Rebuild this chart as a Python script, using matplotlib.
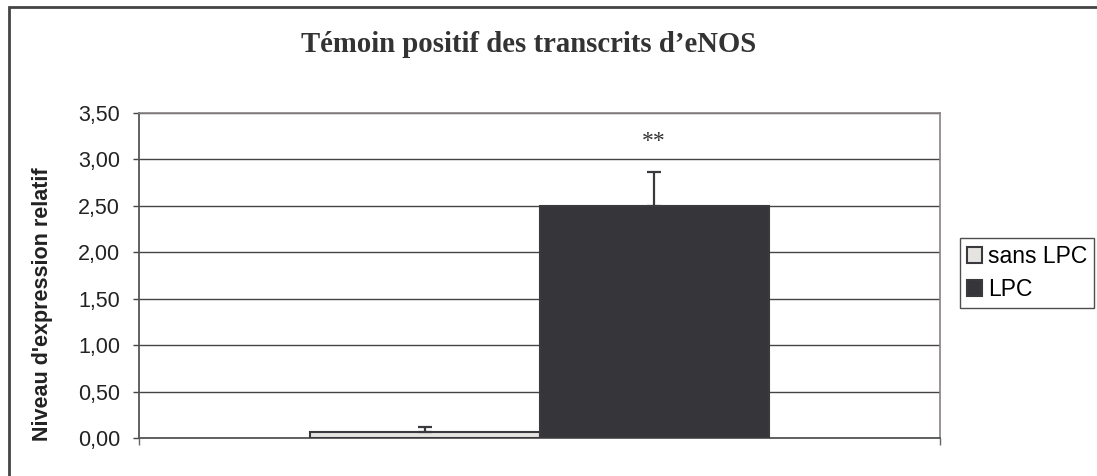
import matplotlib.pyplot as plt
from matplotlib.patches import Rectangle
from matplotlib.ticker import FuncFormatter

series = ["sans LPC", "LPC"]
values = [0.065, 2.50]
errors = [0.055, 0.36]
star_label = "**"
star_y = 3.19
yticks = [0.0, 0.5, 1.0, 1.5, 2.0, 2.5, 3.0, 3.5]

fills = ["#e6e4e1", "#36353a"]
edge = "#3a3a3e"
bar_w = 0.286
offsets = [-bar_w / 2, bar_w / 2]

fig = plt.figure(figsize=(10.97, 4.76), dpi=100)
ax = fig.add_axes([139 / 1097, 38 / 476, 801 / 1097, 325 / 476])

for i, (name, v, e) in enumerate(zip(series, values, errors)):
    ax.bar(offsets[i], v, width=bar_w, color=fills[i], edgecolor=edge,
           linewidth=1.5, label=name, zorder=3)
    ax.errorbar(offsets[i], v, yerr=[[0], [e]], fmt='none', ecolor=edge,
                elinewidth=1.6, capsize=5, capthick=1.6, zorder=4)

ax.text(offsets[1], star_y, star_label, ha='center', va='center',
        fontsize=17, family='Liberation Serif', color='#333333')

ax.set_xlim(-0.5, 0.5)
ax.set_ylim(0, 3.5)
ax.set_yticks(yticks)
ax.yaxis.set_major_formatter(FuncFormatter(lambda y, p: f"{y:.2f}".replace('.', ',')))
ax.set_xticks([-0.5, 0.5])
ax.set_xticklabels([])
ax.tick_params(axis='y', direction='out', length=4.5, width=1, color='#444444',
               labelsize=15.5, pad=9, labelcolor='#222222')
ax.tick_params(axis='x', direction='out', length=5, width=1, color='#666666')
for lab in ax.get_yticklabels():
    lab.set_family('Liberation Sans')

ax.grid(axis='y', color='#444444', linewidth=1, zorder=0)
ax.set_axisbelow(True)
for s in ['top', 'right']:
    ax.spines[s].set_color('#8a8282')
    ax.spines[s].set_linewidth(1.2)
ax.spines['left'].set_color('#555555')
ax.spines['bottom'].set_color('#555555')
ax.spines['left'].set_linewidth(1.3)
ax.spines['bottom'].set_linewidth(1.3)

fig.text(43 / 1097, 1 - 304 / 476, "Niveau d'expression relatif", rotation=90,
         ha='center', va='center', fontsize=15.5, fontweight='bold',
         family='Liberation Sans', color='#222222')

fig.text(529 / 1097, 1 - 45 / 476, "Témoin positif des transcrits d’eNOS",
         ha='center', va='center', fontsize=20.7, fontweight='bold',
         family='Liberation Serif', color='#333333')

leg = ax.legend(loc='center left', bbox_to_anchor=(960 / 1097, 1 - 273 / 476),
                bbox_transform=fig.transFigure, frameon=True, fancybox=False,
                prop={'family': 'Liberation Sans', 'size': 16.5},
                handlelength=0.68, handleheight=0.68, handletextpad=0.25,
                borderpad=0.3, labelspacing=0.45, borderaxespad=0)
leg.get_frame().set_edgecolor('#222222')
leg.get_frame().set_linewidth(1)

fig.add_artist(Rectangle((8.5 / 1097, -0.1), 1.2, 1.1 - 6.5 / 476,
                         transform=fig.transFigure, fill=False,
                         edgecolor='#444444', linewidth=2))

fig.savefig('out.png', dpi=100)
